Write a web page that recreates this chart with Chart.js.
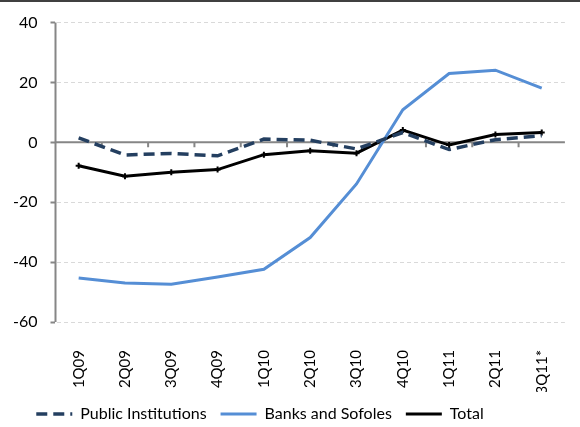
<!DOCTYPE html>
<html>
<head>
<meta charset="utf-8">
<script src="https://cdn.jsdelivr.net/npm/chart.js@4.4.1/dist/chart.umd.min.js"></script>
<style>
  html, body { margin: 0; padding: 0; background: #fff; }
  #wrap { position: relative; width: 580px; height: 427px; }
  #topbar { position: absolute; left: 0; top: 0; width: 580px; height: 2px; background: #404040; }
</style>
</head>
<body>
<div id="wrap">
  <div id="topbar"></div>
  <canvas id="chart" width="580" height="427"></canvas>
</div>
<script>
const quarters = ['1Q09', '2Q09', '3Q09', '4Q09', '1Q10', '2Q10', '3Q10', '4Q10', '1Q11', '2Q11', '3Q11*'];
const publicInstitutions = [1.5, -4.2, -3.7, -4.5, 1.1, 0.7, -2.2, 3.3, -2.4, 0.9, 2.2];
const banksAndSofoles = [-45.3, -47.0, -47.4, -45.0, -42.4, -31.8, -13.9, 10.9, 23.0, 24.1, 18.1];
const total = [-7.8, -11.3, -10.0, -9.1, -4.1, -2.8, -3.6, 4.1, -0.9, 2.6, 3.3];
const yTicks = [-60, -40, -20, 0, 20, 40];

const axisGrey = '#868686';
const fontFamily = 'Lato, "Open Sans", sans-serif';

// solid y axis, solid zero line and the small category ticks below it
const axisLines = {
  id: 'axisLines',
  afterLayout(chart) {
    // legend sits a bit left of centre in the original
    chart.legend.left -= 30;
    chart.legend.right -= 30;
  },
  beforeDatasetsDraw(chart) {
    const { ctx, chartArea, scales } = chart;
    const y0 = scales.y.getPixelForValue(0);
    ctx.save();
    ctx.strokeStyle = axisGrey;
    ctx.lineWidth = 2;
    ctx.setLineDash([]);
    ctx.beginPath();
    ctx.moveTo(chartArea.left, chartArea.top);
    ctx.lineTo(chartArea.left, chartArea.bottom);
    ctx.moveTo(chartArea.left, y0);
    ctx.lineTo(chartArea.right, y0);
    for (let i = 1; i < quarters.length; i++) {
      const x = (scales.x.getPixelForValue(i - 1) + scales.x.getPixelForValue(i)) / 2;
      ctx.moveTo(x, y0);
      ctx.lineTo(x, y0 + 5);
    }
    ctx.stroke();
    ctx.restore();
  }
};

new Chart(document.getElementById('chart'), {
  type: 'line',
  data: {
    labels: quarters,
    datasets: [
      {
        label: 'Public Institutions',
        data: publicInstitutions,
        borderColor: '#243F60',
        backgroundColor: '#243F60',
        borderWidth: 3.5,
        borderDash: [11, 6],
        pointRadius: 0,
        tension: 0
      },
      {
        label: 'Banks and Sofoles',
        data: banksAndSofoles,
        borderColor: '#558ED5',
        backgroundColor: '#558ED5',
        borderWidth: 3,
        pointRadius: 0,
        tension: 0
      },
      {
        label: 'Total',
        data: total,
        borderColor: '#000000',
        backgroundColor: '#000000',
        borderWidth: 3,
        pointStyle: 'cross',
        pointRadius: 3,
        pointBorderWidth: 2,
        tension: 0
      }
    ]
  },
  options: {
    responsive: false,
    animation: false,
    layout: { padding: { left: 0, right: 0, top: 19, bottom: -5 } },
    plugins: {
      tooltip: { enabled: false },
      legend: {
        position: 'bottom',
        labels: {
          usePointStyle: true,
          pointStyle: 'line',
          pointStyleWidth: 36,
          boxHeight: 4,
          padding: 14,
          color: '#000',
          font: { family: fontFamily, size: 16 },
          generateLabels(chart) {
            const items = Chart.defaults.plugins.legend.labels.generateLabels(chart);
            items.forEach(item => {
              const ds = chart.data.datasets[item.datasetIndex];
              item.lineDash = ds.borderDash || [];
              item.lineWidth = ds.borderWidth;
              item.strokeStyle = ds.borderColor;
              item.pointStyle = 'line';
            });
            return items;
          }
        }
      }
    },
    scales: {
      x: {
        offset: true,
        grid: { display: false },
        border: { display: false },
        afterFit(scale) {
          scale.height = 70;
        },
        ticks: {
          minRotation: 90,
          maxRotation: 90,
          padding: 20,
          color: '#000',
          font: { family: fontFamily, size: 15 }
        }
      },
      y: {
        min: -60,
        max: 40,
        afterBuildTicks(scale) {
          scale.ticks = yTicks.map(v => ({ value: v }));
        },
        border: { color: 'rgba(0,0,0,0)', width: 2, dash: [4, 3] },
        grid: {
          color: '#D9D9D9',
          lineWidth: 1,
          tickLength: 5,
          tickColor: axisGrey,
          tickBorderDash: [],
          tickWidth: 2
        },
        ticks: {
          padding: 13,
          color: '#000',
          font: { family: fontFamily, size: 16 }
        }
      }
    }
  },
  plugins: [axisLines]
});
</script>
</body>
</html>
